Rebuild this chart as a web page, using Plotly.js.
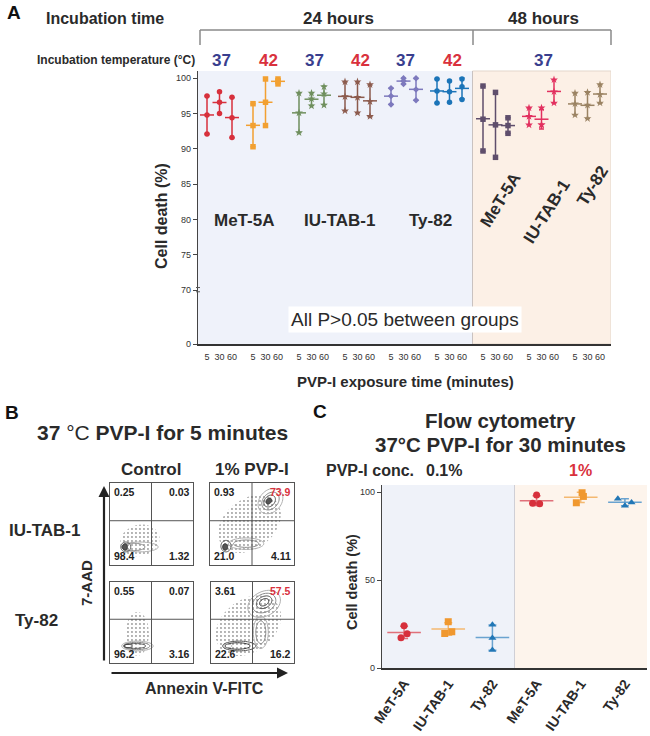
<!DOCTYPE html>
<html><head><meta charset="utf-8">
<script src="https://cdn.plot.ly/plotly-3.0.1.min.js"></script>
<style>html,body{margin:0;padding:0;background:#fff}#chart{width:650px;height:736px}</style>
</head><body><div id="chart"></div>
<script>
// ================= DATA =================
// Panel A: cell death (%) after PVP-I exposure, 3 replicates per exposure time
const timesA = ['5', '30', '60'];
const cellLines = ['MeT-5A', 'IU-TAB-1', 'Ty-82'];
const tempLabelsA = ['37', '42', '37', '42', '37', '42', '37'];
const met24_37 = [[97.5, 94.8, 92.1], [98.1, 96.6, 95.0], [97.3, 94.4, 91.6]];
const met24_42 = [[96.4, 93.3, 90.3], [99.9, 96.6, 93.3], [99.9, 99.6, 99.2]];
const iu24_37  = [[97.9, 95.1, 92.3], [97.9, 97.1, 96.1], [98.8, 97.8, 96.2]];
const iu24_42  = [[99.5, 97.4, 95.4], [99.5, 97.3, 95.1], [99.1, 96.7, 94.6]];
const ty24_37  = [[98.6, 97.5, 96.3], [100.0, 99.6, 99.2], [100.0, 98.4, 96.9]];
const ty24_42  = [[99.9, 98.2, 96.5], [99.6, 98.1, 96.6], [99.9, 98.8, 97.0]];
const met48_37 = [[98.9, 94.2, 89.7], [98.0, 93.4, 88.8], [94.4, 93.3, 92.2]];
const iu48_37  = [[95.8, 94.6, 93.4], [95.8, 93.4, 93.4], [99.8, 98.1, 96.5]];
const ty48_37  = [[97.9, 96.4, 94.8], [98.0, 96.2, 94.3], [99.1, 97.7, 96.5]];
const yTicksA = [70, 75, 80, 85, 90, 95, 100];

// Panel B: flow cytometry quadrant percentages (UL, UR, LL, LR)
const flowNames = ['IU-TAB-1 Control', 'IU-TAB-1 1% PVP-I', 'Ty-82 Control', 'Ty-82 1% PVP-I'];
const quadIUctrl = ['0.25', '0.03', '98.4', '1.32'];
const quadIUpvp  = ['0.93', '73.9', '21.0', '4.11'];
const quadTYctrl = ['0.55', '0.07', '96.2', '3.16'];
const quadTYpvp  = ['3.61', '57.5', '22.6', '16.2'];
// density outlines [cx, cy, rx, ry, rotation deg] in unit panel coords
const cloudIUctrl = [[0.36, 0.30, 0.24, 0.19, 15]];
const cloudIUpvp  = [[0.47, 0.50, 0.42, 0.30, 40]];
const cloudTYctrl = [[0.33, 0.36, 0.14, 0.27, 0]];
const cloudTYpvp  = [[0.45, 0.46, 0.44, 0.32, 40]];
const contIUctrl = [[0.36, 0.22, 0.22, 0.06, 0], [0.28, 0.22, 0.14, 0.045, 0], [0.19, 0.22, 0.06, 0.06, 0], [0.18, 0.22, 0.03, 0.04, 0]];
const contIUpvp  = [[0.72, 0.78, 0.17, 0.13, 50], [0.72, 0.78, 0.12, 0.09, 50], [0.71, 0.78, 0.08, 0.06, 50], [0.70, 0.78, 0.04, 0.03, 50],
                    [0.43, 0.26, 0.21, 0.07, 0], [0.43, 0.26, 0.15, 0.045, 0], [0.19, 0.23, 0.06, 0.07, 0], [0.18, 0.22, 0.03, 0.04, 0]];
const contTYctrl = [[0.33, 0.21, 0.19, 0.06, 0], [0.32, 0.21, 0.16, 0.045, 0], [0.30, 0.21, 0.13, 0.03, 0], [0.22, 0.21, 0.05, 0.02, 0]];
const contTYpvp  = [[0.64, 0.73, 0.21, 0.15, 30], [0.64, 0.74, 0.15, 0.11, 30], [0.64, 0.75, 0.10, 0.07, 30], [0.64, 0.75, 0.06, 0.04, 30],
                    [0.60, 0.38, 0.09, 0.20, 0], [0.60, 0.38, 0.06, 0.14, 0],
                    [0.34, 0.21, 0.20, 0.06, 0], [0.32, 0.21, 0.15, 0.04, 0], [0.20, 0.21, 0.05, 0.025, 0]];

// Panel C: flow cytometry cell death (%) at 30 min
const cellsC = ['MeT-5A', 'IU-TAB-1', 'Ty-82', 'MeT-5A', 'IU-TAB-1', 'Ty-82'];
const concC = ['0.1%', '1%'];
const metC_01 = [24.0, 19.5, 17.2];
const iuC_01  = [26.3, 20.6, 19.6];
const tyC_01  = [24.6, 17.0, 10.2];
const metC_1  = [98.3, 93.6, 93.4];
const iuC_1   = [99.6, 97.5, 93.9];
const tyC_1   = [96.2, 94.1, 92.2];
const yTicksC = [0, 50, 100];

// ================= STYLE / LAYOUT HELPERS =================
const W = 650, H = 736;
const FX = v => v / W, FY = v => 1 - v / H;
const FONT = 'Liberation Sans, Arial, Helvetica, sans-serif';
const mean = a => a.reduce((s, v) => s + v, 0) / a.length;
const sd = a => { const m = mean(a); return Math.sqrt(a.reduce((s, v) => s + (v - m) * (v - m), 0) / (a.length - 1)); };

const traces = [];
const shapes = [];
const annotations = [];
function ann(text, x, y, size, o) {
  annotations.push(Object.assign({text: text, xref: 'paper', yref: 'paper', x: FX(x), y: FY(y),
    showarrow: false, xanchor: 'center', yanchor: 'middle',
    font: {family: FONT, size: size, color: '#2a2a2a'}}, o || {}));
}

// ================= PANEL A =================
const groupsA = [met24_37, met24_42, iu24_37, iu24_42, ty24_37, ty24_42, met48_37, iu48_37, ty48_37];
const colorsA = ['#d7303c', '#f2a031', '#6f8f5d', '#8c5b4d', '#7d79bd', '#1b74b8', '#5f4e6c', '#e2305f', '#9b8363'];
const symbolsA = ['circle', 'square', 'star', 'star', 'diamond', 'circle', 'square', 'star', 'star'];
const sizesA = [5.5, 5.5, 6, 6, 5, 5.5, 5.5, 6, 6];
const GAP = 3.68;
const tickValsA = [], tickTextA = [];
groupsA.forEach((grp, g) => {
  const xs = [], ys = [], mx = [], my = [], er = [];
  grp.forEach((vals, k) => {
    const x = g * GAP + k;
    tickValsA.push(x); tickTextA.push(timesA[k]);
    vals.forEach(v => { xs.push(x); ys.push(v); });
    mx.push(x); my.push(mean(vals)); er.push(sd(vals));
  });
  const c = colorsA[g];
  traces.push({type: 'scatter', mode: 'markers', x: mx, y: my, xaxis: 'x', yaxis: 'y', hoverinfo: 'skip',
    marker: {symbol: 'line-ew-open', size: 10, color: c, line: {color: c, width: 1.5}},
    error_y: {type: 'data', array: er, visible: true, color: c, thickness: 1.5, width: 2.5}});
  traces.push({type: 'scatter', mode: 'markers', x: xs, y: ys, xaxis: 'x', yaxis: 'y', hoverinfo: 'skip',
    marker: {symbol: symbolsA[g], size: sizesA[g], color: c, line: {width: 0}}});
});
const XA0 = -0.72, XA1 = 32.32, SPLIT_A = 21.24;
const YA0 = 62.35, YA1 = 101.03;
shapes.push({type: 'rect', xref: 'x', yref: 'y domain', x0: XA0, x1: SPLIT_A, y0: 0, y1: 1, fillcolor: '#eff2fa', line: {width: 0}, layer: 'below'});
shapes.push({type: 'rect', xref: 'x', yref: 'y domain', x0: SPLIT_A, x1: XA1, y0: 0, y1: 1, fillcolor: '#fcf0e6', line: {color: '#e3d6cb', width: 1}, layer: 'below'});
shapes.push({type: 'line', xref: 'x', yref: 'y domain', x0: SPLIT_A, x1: SPLIT_A, y0: 0, y1: 1, line: {color: '#c9c2c0', width: 1}, layer: 'below'});
// axis break mark at 70
shapes.push({type: 'line', xref: 'paper', yref: 'y', x0: FX(196), x1: FX(200), y0: 70.35, y1: 70.35, line: {color: '#555', width: 1}});
shapes.push({type: 'line', xref: 'paper', yref: 'y', x0: FX(196), x1: FX(200), y0: 69.75, y1: 69.75, line: {color: '#555', width: 1}});
// bracket for incubation time
const brY0 = 30, brY1 = 45;
[[200, brY0, 611, brY0], [200, brY0, 200, brY1], [473, brY0, 473, brY1], [611, brY0, 611, brY1]].forEach(l => {
  shapes.push({type: 'line', xref: 'paper', yref: 'paper', x0: FX(l[0]), y0: FY(l[1]), x1: FX(l[2]), y1: FY(l[3]), line: {color: '#8a8a8a', width: 1.5}});
});
ann('<b>A</b>', 14, 13, 19, {font: {family: FONT, size: 19, color: '#111'}});
ann('<b>Incubation time</b>', 105, 18, 16);
ann('<b>24 hours</b>', 338, 18, 17);
ann('<b>48 hours</b>', 543, 18, 17);
ann('<b>Incubation temperature (°C)</b>', 197, 60, 12, {xanchor: 'right'});
const tempX = [222, 268, 314, 360, 405, 452, 543];
tempLabelsA.forEach((t, i) => ann('<b>' + t + '</b>', tempX[i], 60, 17,
  {font: {family: FONT, size: 17, color: t === '37' ? '#393e8e' : '#d9313d'}}));
ann('<b>Cell death (%)</b>', 162, 216, 16, {textangle: -90});
ann('<b>' + cellLines[0] + '</b>', 244, 220, 17);
ann('<b>' + cellLines[1] + '</b>', 339, 220, 17);
ann('<b>' + cellLines[2] + '</b>', 430, 220, 17);
ann('<b>' + cellLines[0] + '</b>', 500, 200, 17, {textangle: -58});
ann('<b>' + cellLines[1] + '</b>', 546, 212, 17, {textangle: -58});
ann('<b>' + cellLines[2] + '</b>', 592, 186, 17, {textangle: -58});
ann('All P&gt;0.05 between groups', 405, 320, 19, {bgcolor: '#ffffff', borderpad: 2});
ann('<b>PVP-I exposure time (minutes)</b>', 405, 381, 15);

// ================= PANEL B =================
function ellipse(e) {
  const xs = [], ys = [], r = e[4] * Math.PI / 180;
  for (let i = 0; i <= 48; i++) {
    const t = i / 48 * 2 * Math.PI, ex = e[2] * Math.cos(t), ey = e[3] * Math.sin(t);
    xs.push(e[0] + ex * Math.cos(r) - ey * Math.sin(r));
    ys.push(e[1] + ex * Math.sin(r) + ey * Math.cos(r));
  }
  return [xs, ys];
}
const flowQuads = [quadIUctrl, quadIUpvp, quadTYctrl, quadTYpvp];
const flowClouds = [cloudIUctrl, cloudIUpvp, cloudTYctrl, cloudTYpvp];
const flowConts = [contIUctrl, contIUpvp, contTYctrl, contTYpvp];
const flowBoxes = [[110, 193, 483, 565], [210, 294, 483, 565], [110, 193, 582, 663], [211, 294, 582, 663]];
const layoutAxes = {};
flowBoxes.forEach((b, p) => {
  const n = p + 2, xa = 'x' + n, ya = 'y' + n;
  const ax = {range: [0, 1], showline: true, mirror: true, linecolor: '#555', linewidth: 1, showticklabels: false,
    ticks: '', showgrid: false, zeroline: false, fixedrange: true};
  layoutAxes['xaxis' + n] = Object.assign({domain: [FX(b[0]), FX(b[1])], anchor: ya}, ax);
  layoutAxes['yaxis' + n] = Object.assign({domain: [FY(b[3]), FY(b[2])], anchor: xa}, ax);
  shapes.push({type: 'line', xref: xa, yref: ya, x0: 0.5, x1: 0.5, y0: 0, y1: 1, line: {color: '#555', width: 1}});
  shapes.push({type: 'line', xref: xa, yref: ya, x0: 0, x1: 1, y0: 0.54, y1: 0.54, line: {color: '#555', width: 1}});
  flowClouds[p].forEach(e => {
    const [xs, ys] = ellipse(e);
    traces.push({type: 'scatter', mode: 'lines', x: xs, y: ys, xaxis: xa, yaxis: ya, fill: 'toself', hoverinfo: 'skip',
      line: {width: 0, color: 'rgba(0,0,0,0)'}, fillcolor: 'rgba(0,0,0,0)',
      fillpattern: {shape: '.', fgcolor: '#9a9a9a', bgcolor: 'rgba(0,0,0,0)', size: 4, solidity: 0.18}});
  });
  const shades = ['#b0b0b0', '#8a8a8a', '#555', '#333'];
  flowConts[p].forEach((e, i) => {
    const [xs, ys] = ellipse(e);
    const lvl = i % 4;
    traces.push({type: 'scatter', mode: 'lines', x: xs, y: ys, xaxis: xa, yaxis: ya, hoverinfo: 'skip',
      line: {width: 1, color: shades[Math.min(lvl, 3)], shape: 'spline'},
      fill: e[2] < 0.045 ? 'toself' : 'none', fillcolor: '#555'});
  });
  const q = flowQuads[p];
  const qa = (t, x, y, xan, yan, col) => annotations.push({text: '<b>' + t + '</b>', xref: xa, yref: ya, x: x, y: y,
    xanchor: xan, yanchor: yan, showarrow: false, font: {family: FONT, size: 10.5, color: col || '#222'}});
  qa(q[0], 0.02, 0.99, 'left', 'top');
  qa(q[1], 0.99, 0.99, 'right', 'top', (p % 2 === 1) ? '#d9313d' : '#222');
  qa(q[2], 0.02, 0.01, 'left', 'bottom');
  qa(q[3], 0.99, 0.01, 'right', 'bottom');
});
ann('<b>B</b>', 12, 412, 19, {font: {family: FONT, size: 19, color: '#111'}});
ann('<b>37</b> °C <b>PVP-I for 5 minutes</b>', 163, 432, 21);
ann('<b>Control</b>', 151, 469, 17);
ann('<b>1% PVP-I</b>', 252, 469, 17);
ann('<b>IU-TAB-1</b>', 44, 530, 17);
ann('<b>Ty-82</b>', 36, 620, 17);
ann('<b>7-AAD</b>', 86, 583, 15, {textangle: -90});
ann('<b>Annexin V-FITC</b>', 204, 688, 16);
annotations.push({text: '', xref: 'paper', yref: 'paper', x: FX(104), y: FY(486), ax: 0, ay: 176, showarrow: true,
  arrowhead: 2, arrowsize: 1, arrowwidth: 2.2, arrowcolor: '#222'});
annotations.push({text: '', xref: 'paper', yref: 'paper', x: FX(288), y: FY(673), ax: -178, ay: 0, showarrow: true,
  arrowhead: 2, arrowsize: 1, arrowwidth: 2.2, arrowcolor: '#222'});

// ================= PANEL C =================
const groupsC = [metC_01, iuC_01, tyC_01, metC_1, iuC_1, tyC_1];
const jitterC = [[0, 0.07, -0.07], [0, 0.08, -0.08], [0, 0, 0], [0, -0.09, 0.07], [0.03, 0.06, -0.1], [-0.16, 0.15, 0]];
const colorsC = ['#d7303c', '#f0982f', '#2277b6'];
const lineColorsC = ['#e0707a', '#f4b870', '#6aa3d0'];
const symbolsC = ['circle', 'square', 'triangle-up'];
groupsC.forEach((vals, i) => {
  const c = i % 3;
  traces.push({type: 'scatter', mode: 'markers', x: [i], y: [mean(vals)], xaxis: 'x6', yaxis: 'y6', hoverinfo: 'skip',
    marker: {symbol: 'line-ew-open', size: 24, color: lineColorsC[c], line: {color: lineColorsC[c], width: 1.5}},
    error_y: {type: 'data', array: [sd(vals)], visible: true, color: lineColorsC[c], thickness: 1.5, width: 4}});
  traces.push({type: 'scatter', mode: 'markers', x: vals.map((v, k) => i + jitterC[i][k]), y: vals, xaxis: 'x6', yaxis: 'y6',
    hoverinfo: 'skip', marker: {symbol: symbolsC[c], size: 7, color: colorsC[c], line: {width: 0}}});
});
shapes.push({type: 'rect', xref: 'x6', yref: 'y6 domain', x0: -0.5, x1: 2.5, y0: 0, y1: 1, fillcolor: '#eff2f9', line: {width: 0}, layer: 'below'});
shapes.push({type: 'rect', xref: 'x6', yref: 'y6 domain', x0: 2.5, x1: 5.5, y0: 0, y1: 1, fillcolor: '#fdf4ec', line: {width: 0}, layer: 'below'});
shapes.push({type: 'line', xref: 'x6', yref: 'y6 domain', x0: 2.5, x1: 2.5, y0: 0, y1: 1, line: {color: '#cfcfd6', width: 1}, layer: 'below'});
ann('<b>C</b>', 320, 411, 19, {font: {family: FONT, size: 19, color: '#111'}});
ann('<b>Flow cytometry</b>', 500, 420, 20.5);
ann('<b>37°C PVP-I for 30 minutes</b>', 500, 444, 20.5);
ann('<b>PVP-I conc.</b>', 370, 470, 16);
ann('<b>' + concC[0] + '</b>', 444, 470, 16);
ann('<b>' + concC[1] + '</b>', 580, 470, 16, {font: {family: FONT, size: 16, color: '#d9313d'}});
ann('<b>Cell death (%)</b>', 352, 582, 14.5, {textangle: -90});

// ================= LAYOUT =================
const tickFont = {family: FONT, size: 9, color: '#333'};
const layout = Object.assign({
  width: W, height: H, margin: {l: 0, r: 0, t: 0, b: 0},
  paper_bgcolor: '#ffffff', plot_bgcolor: 'rgba(0,0,0,0)', showlegend: false,
  xaxis: {domain: [FX(198), FX(611)], anchor: 'y', range: [XA0, XA1], tickvals: tickValsA, ticktext: tickTextA,
    tickangle: 0, tickfont: {family: FONT, size: 9, color: '#333'}, ticks: '', showline: true, linecolor: '#333', linewidth: 2,
    showgrid: false, zeroline: false, ticklabelstandoff: 3},
  yaxis: {domain: [FY(344), FY(71)], anchor: 'x', range: [YA0, YA1],
    tickvals: [YA0].concat(yTicksA), ticktext: ['0'].concat(yTicksA.map(String)),
    tickfont: tickFont, ticks: 'outside', ticklen: 4, tickcolor: '#444', showline: true, linecolor: '#444', linewidth: 1.2,
    showgrid: false, zeroline: false},
  xaxis6: {domain: [FX(382), FX(647)], anchor: 'y6', range: [-0.5, 5.5], tickvals: [0, 1, 2, 3, 4, 5],
    ticktext: cellsC.map(s => '<b>' + s + '</b>'), tickangle: -55, tickfont: {family: FONT, size: 14, color: '#2a2a2a'},
    ticks: '', showline: true, linecolor: '#333', linewidth: 2, showgrid: false, zeroline: false, ticklabelstandoff: 0},
  yaxis6: {domain: [FY(668), FY(485)], anchor: 'x6', range: [0, 104], tickvals: yTicksC, tickfont: tickFont,
    ticks: 'outside', ticklen: 4, tickcolor: '#444', showline: true, linecolor: '#444', linewidth: 1.2,
    showgrid: false, zeroline: false},
  shapes: shapes, annotations: annotations
}, layoutAxes);

Plotly.newPlot('chart', traces, layout, {displayModeBar: false, staticPlot: true});
</script>
</body></html>
